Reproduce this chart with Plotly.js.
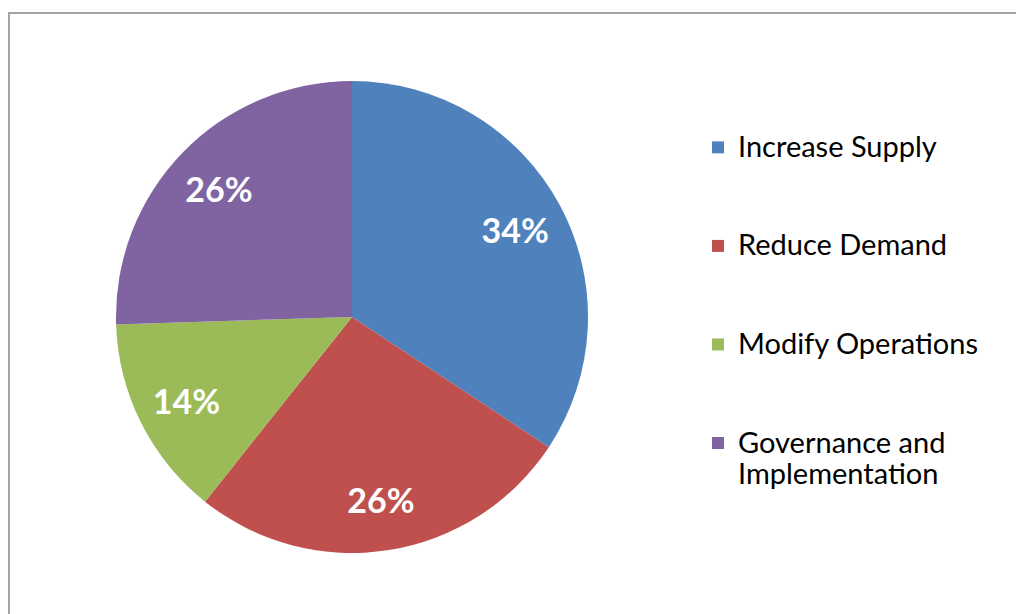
<!DOCTYPE html>
<html>
<head>
<meta charset="utf-8">
<script src="https://cdn.plot.ly/plotly-3.0.1.min.js"></script>
<style>
  html, body { margin: 0; padding: 0; background: #ffffff; overflow: hidden; }
  #frame { position: absolute; left: 8px; top: 12px; width: 1100px; height: 700px;
           border: 2px solid #a3a3a3; box-sizing: border-box; }
  #chart { position: absolute; left: 0; top: 0; width: 1016px; height: 614px; }
</style>
</head>
<body>
<div id="frame"></div>
<div id="chart"></div>
<script>
// Data
const categories = ["Increase Supply", "Reduce Demand", "Modify Operations", "Governance and Implementation"];
const shares = [34.3, 26.4, 13.8, 25.5];
const sliceColors = ["#4F81BD", "#C0504D", "#9BBB59", "#8064A2"];

// legend labels: wrap long names, larger text in a span, padded to 3 lines for the reference spacing
const legendLabels = categories.map(function (c) {
  let lines = c === "Governance and Implementation" ? ["Governance and", "Implementation"] : [c];
  lines = lines.map(function (l) { return '<span style="font-size:29px">' + l + '</span>'; });
  while (lines.length < 3) lines.push(" ");
  return lines.join("<br>");
});

const W = 1016, H = 614;
const cx = 352, cy = 317, R = 236;
const dom = {
  x: [(cx - R) / W, (cx + R) / W],
  y: [(H - cy - R) / H, (H - cy + R) / H]
};

// full pie (slices + legend)
const pieTrace = {
  type: "pie",
  labels: legendLabels,
  values: shares,
  sort: false,
  direction: "clockwise",
  rotation: 0,
  marker: { colors: sliceColors, line: { width: 0 } },
  textinfo: "none",
  hoverinfo: "label+percent",
  domain: dom
};

// same pie as a transparent ring, only to carry the percentage labels further out
const labelTrace = {
  type: "pie",
  labels: legendLabels,
  values: shares,
  sort: false,
  direction: "clockwise",
  rotation: 0,
  hole: 0.57,
  showlegend: false,
  marker: { colors: sliceColors.map(function () { return "rgba(0,0,0,0)"; }), line: { width: 0 } },
  texttemplate: "%{percent:.0%}",
  textposition: "inside",
  insidetextorientation: "horizontal",
  textfont: { family: "Lato, 'DejaVu Sans', sans-serif", size: 34, color: "#ffffff", weight: "bold" },
  hoverinfo: "skip",
  domain: dom
};

const layout = {
  width: W,
  height: H,
  margin: { l: 0, r: 0, t: 0, b: 0 },
  paper_bgcolor: "rgba(0,0,0,0)",
  plot_bgcolor: "rgba(0,0,0,0)",
  showlegend: true,
  legend: {
    x: 0.687, xanchor: "left",
    y: 0.7965, yanchor: "top",
    valign: "top",
    font: { family: "Lato, 'DejaVu Sans', sans-serif", size: 24.5, color: "#000000" },
    itemwidth: 30,
    bgcolor: "rgba(0,0,0,0)"
  }
};

Plotly.newPlot("chart", [pieTrace, labelTrace], layout, { displayModeBar: false, staticPlot: true });
</script>
</body>
</html>
